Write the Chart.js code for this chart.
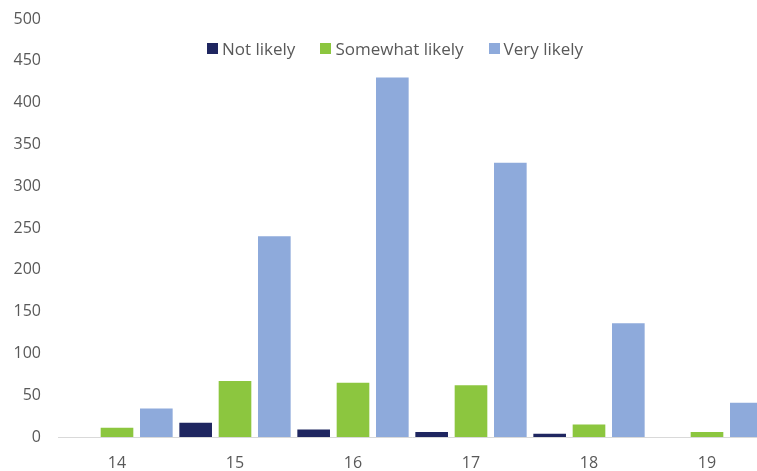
<!DOCTYPE html>
<html>
<head>
<meta charset="utf-8">
<script src="https://cdn.jsdelivr.net/npm/chart.js@4"></script>
<style>
    html, body { margin: 0; padding: 0; background: #fff; overflow: hidden; }
    #wrap { position: relative; width: 770px; height: 471px; }
    #legend {
        position: absolute; top: 37px; left: 207px;
        display: flex; align-items: center;
        font-family: 'Open Sans', sans-serif; font-size: 17px; color: #595959;
    }
    #legend span.item { display: flex; align-items: center; margin-right: 25px; }
    #legend span.box { width: 11px; height: 11px; margin-right: 4px; display: inline-block; }
</style>
</head>
<body>
<div id="wrap">
    <canvas id="chart" width="770" height="471"></canvas>
    <div id="legend"></div>
</div>
<script>
const ages = ['14', '15', '16', '17', '18', '19'];
const notLikely = [0, 17, 9, 6, 4, 0];
const somewhatLikely = [11, 67, 65, 62, 15, 6];
const veryLikely = [34, 240, 430, 328, 136, 41];
const yTicks = [0, 50, 100, 150, 200, 250, 300, 350, 400, 450, 500];

const colours = ['#1f2660', '#8cc63f', '#8eaadb'];
const labels = ['Not likely', 'Somewhat likely', 'Very likely'];
const series = [notLikely, somewhatLikely, veryLikely];

let chart = undefined;

function loadChart() {
    let ctx = document.getElementById('chart');
    chart = new Chart(ctx, {
        type: 'bar',
        data: {
            labels: ages,
            datasets: series.map((values, i) => ({
                label: labels[i],
                data: values,
                backgroundColor: colours[i],
                borderWidth: 0,
                barPercentage: 0.83,
                categoryPercentage: 1.0
            }))
        },
        options: {
            responsive: false,
            animation: false,
            layout: {
                padding: { top: 19, right: 4, left: 0, bottom: 0 }
            },
            plugins: {
                legend: { display: false },
                tooltip: { enabled: false }
            },
            scales: {
                x: {
                    grid: { display: false },
                    border: { display: true, color: '#d9d9d9', width: 1 },
                    ticks: {
                        color: '#595959',
                        padding: 9,
                        font: { family: 'Open Sans', size: 16 }
                    },
                    afterFit: (scale) => { scale.height = 34; }
                },
                y: {
                    min: 0,
                    max: 500,
                    afterBuildTicks: (scale) => {
                        scale.ticks = yTicks.map(v => ({ value: v }));
                    },
                    grid: { display: false },
                    border: { display: false },
                    ticks: {
                        color: '#595959',
                        padding: 9,
                        font: { family: 'Open Sans', size: 16 }
                    },
                    afterFit: (scale) => { scale.width = 58; }
                }
            }
        }
    });
}

function buildLegend() {
    let legend = document.getElementById('legend');
    labels.forEach((name, i) => {
        let item = document.createElement('span');
        item.className = 'item';
        item.innerHTML = '<span class="box" style="background:' + colours[i] + '"></span>' + name;
        legend.appendChild(item);
    });
}

loadChart();
buildLegend();
</script>
</body>
</html>
